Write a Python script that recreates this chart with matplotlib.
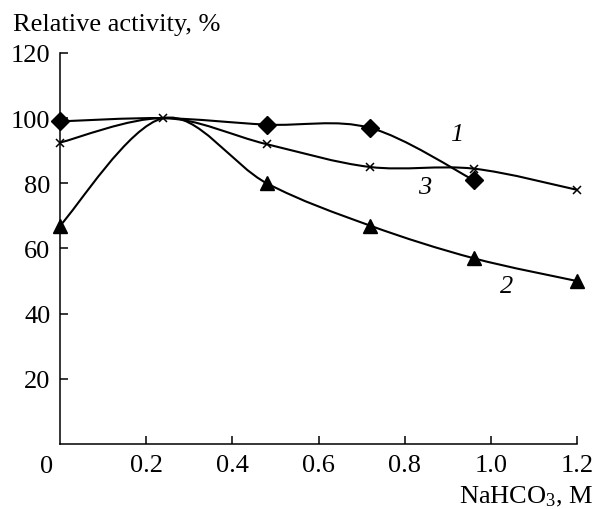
import matplotlib
matplotlib.use('Agg')
import matplotlib.pyplot as plt
import numpy as np
from matplotlib.path import Path
from matplotlib.patches import PathPatch

plt.rcParams['font.family'] = ['Liberation Serif', 'DejaVu Serif']
plt.rcParams['mathtext.fontset'] = 'custom'
plt.rcParams['mathtext.rm'] = 'Liberation Serif'
plt.rcParams['mathtext.it'] = 'Liberation Serif:italic'

# NaHCO3 concentration, M
conc = [0.0, 0.24, 0.48, 0.72, 0.96, 1.2]
# relative activity, %
curve1 = [99, 100, 98, 97, 81]          # diamonds
curve2 = [67, 100, 80, 67, 57, 50]      # triangles
curve3 = [92.5, 100, 92, 85, 84.5, 78]  # crosses

xticks = [0.2, 0.4, 0.6, 0.8, 1.0, 1.2]
xticklabels = ['0.2', '0.4', '0.6', '0.8', '1.0', '1.2']
yticks = [20, 40, 60, 80, 100, 120]

FS = 19


def smooth_path(x, y):
    # catmull-rom through the points, drawn as cubic bezier segments
    p = np.column_stack([x, y]).astype(float)
    ext = np.vstack([p[0], p, p[-1]])
    verts = [p[0]]
    codes = [Path.MOVETO]
    for i in range(len(p) - 1):
        p0, p1, p2, p3 = ext[i], ext[i + 1], ext[i + 2], ext[i + 3]
        verts += [p1 + (p2 - p0) / 6, p2 - (p3 - p1) / 6, p2]
        codes += [Path.CURVE4] * 3
    return Path(verts, codes)


fig = plt.figure(figsize=(5.96, 5.10), dpi=100)
ax = fig.add_axes([0.1007, 0.1275, 0.8674, 0.7667])

for ys in (curve1, curve2, curve3):
    ax.add_patch(PathPatch(smooth_path(conc[:len(ys)], ys), fill=False,
                           lw=1.5, ec='black', clip_on=False))

ax.plot(conc[:len(curve1)], curve1, ls='none', marker='D', ms=9.5, color='black',
        markevery=[0, 2, 3, 4], clip_on=False)
ax.plot(conc, curve2, ls='none', marker='^', ms=10, color='black',
        markevery=[0, 2, 3, 4, 5], clip_on=False)
ax.plot(conc, curve3, ls='none', marker='x', ms=5.5, mew=1.1, color='black',
        clip_on=False)

ax.text(0.92, 95, '1', fontsize=FS, style='italic', ha='center', va='center')
ax.text(0.846, 79, '3', fontsize=FS, style='italic', ha='center', va='center')
ax.text(1.037, 48.5, '2', fontsize=FS, style='italic', ha='center', va='center')

ax.set_xlim(0, 1.2)
ax.set_ylim(0, 120)
ax.set_xticks(xticks)
ax.set_xticklabels(xticklabels)
ax.set_yticks(yticks)
ax.tick_params(direction='in', length=6, width=1.1, labelsize=FS, pad=7)
ax.spines['top'].set_visible(False)
ax.spines['right'].set_visible(False)
for s in ('left', 'bottom'):
    ax.spines[s].set_linewidth(1.1)

ax.annotate('0', xy=(0, 0), xycoords='data', xytext=(-10, -15.5),
            textcoords='offset points', fontsize=FS, ha='center', va='center')
fig.text(0.995, 0.012, 'NaHCO$_3$, M', fontsize=FS, ha='right', va='baseline')
fig.text(0.022, 0.95, 'Relative activity, %', fontsize=FS, ha='left', va='center')

fig.savefig('out.png', dpi=100)
